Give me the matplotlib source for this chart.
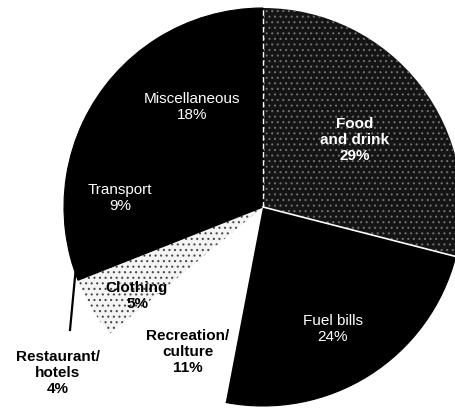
import numpy as np
import matplotlib.pyplot as plt

plt.rcParams['font.family'] = ['Liberation Sans', 'DejaVu Sans']
plt.rcParams['hatch.linewidth'] = 0.8

# household spending shares, clockwise from 12 o'clock
labels = ["Food\nand drink", "Fuel bills", "Recreation/\nculture", "Clothing",
          "Restaurant/\nhotels", "Transport", "Miscellaneous"]
shares = [29, 24, 11, 5, 4, 9, 18]

faces = ['#141414', 'black', 'white', '#f4f4f4', 'black', 'black', 'black']
hatch_cols = ['#6e6e6e', None, None, '#4a4a4a', None, None, None]

# label placement in pixel space (x, y from top), colour, weight
label_pos = [(355, 140), (333, 329), (188, 352), (137, 296),
             (58, 373), (120, 198), (192, 107)]
label_col = ['white', 'white', 'black', 'black', 'black', 'white', 'white']
label_wt = ['bold', 'normal', 'bold', 'bold', 'bold', 'normal', 'normal']

W, H = 456, 410
cx, cy, R = 263, H - 208, 199

fig = plt.figure(figsize=(W / 100, H / 100), dpi=100)
ax = fig.add_axes([0, 0, 1, 1])

wedges, _ = ax.pie(shares, startangle=90, counterclock=False,
                   colors=faces, center=(cx, cy), radius=R,
                   wedgeprops=dict(linewidth=0))
for w, f, hc in zip(wedges, faces, hatch_cols):
    if hc:
        w.set_edgecolor(hc)
        w.set_hatch('...')
    elif f == 'black':
        w.set_edgecolor('black')
        w.set_linewidth(0.8)

# white dividing lines around the food slice
ang_food_end = 90 - shares[0] / sum(shares) * 360
t = np.deg2rad(ang_food_end)
ax.plot([cx, cx + R * np.cos(t)], [cy, cy + R * np.sin(t)], color='white', lw=1.2)
ax.plot([cx, cx], [cy, cy + R], color='white', lw=1, ls=(0, (4, 2)))

for lab, s, (px, py), c, wt in zip(labels, shares, label_pos, label_col, label_wt):
    ax.text(px, H - py, f"{lab}\n{s}%", ha='center', va='center', color=c,
            fontsize=11, fontweight='bold' if wt == 'bold' else 'normal',
            linespacing=1.2)

# leader line for restaurant/hotels
tip = 90 - (sum(shares[:4]) + shares[4] * 0.15) / sum(shares) * 360
tm = np.deg2rad(tip)
ax.plot([70, cx + R * np.cos(tm)], [H - 331, cy + R * np.sin(tm)],
        color='black', lw=1.6)

ax.set_xlim(0, W)
ax.set_ylim(0, H)
ax.set_aspect('equal')
ax.axis('off')
fig.savefig('out.png', dpi=100)
